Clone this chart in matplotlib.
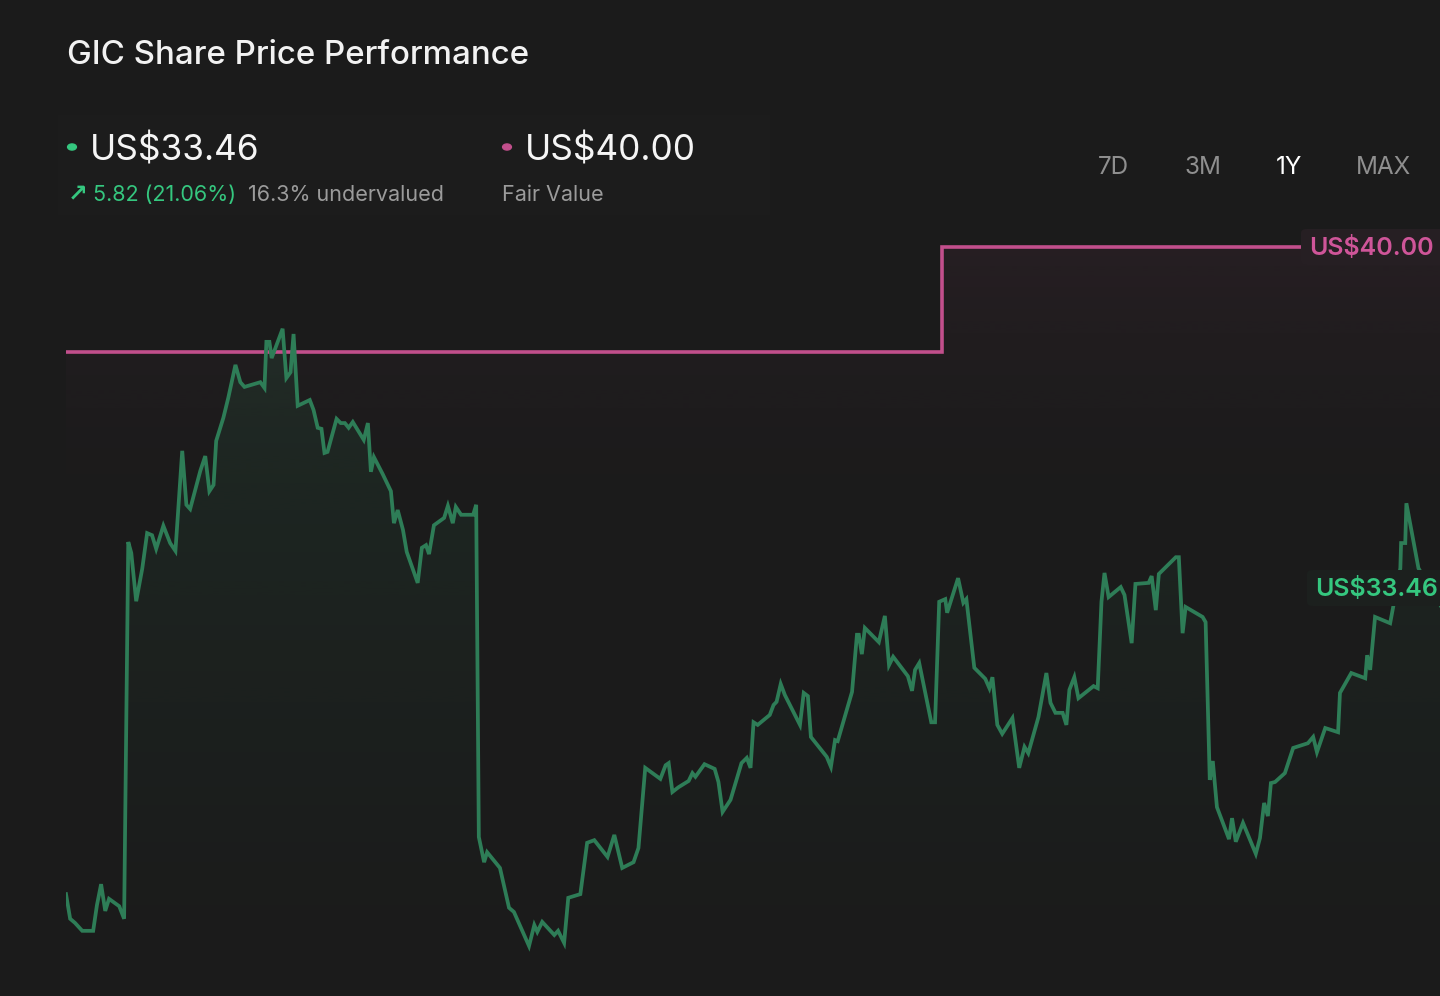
import numpy as np
import matplotlib
matplotlib.use("Agg")
import matplotlib.pyplot as plt
from matplotlib.patches import FancyBboxPatch, Rectangle

# ---------------- data ----------------
days = [0, 1.1, 2.4, 4.3, 7.2, 8.2, 9.3, 10.4, 11.4, 14.1, 15.4, 16.5, 17.3, 18.6, 20.2, 21.5, 22.8, 23.9,
        25.8, 27.6, 29.0, 30.8, 31.9, 32.9, 35.6, 36.9, 38.0, 39.1, 39.8, 41.7, 43.0, 44.9, 46.2, 47.3,
        51.5, 52.6, 53.1, 53.9, 54.5, 57.4, 58.4, 59.5, 60.3, 61.4, 64.6,
        65.6, 66.7, 67.7, 68.5, 69.3, 71.7, 72.8, 73.9, 74.9, 76.0, 78.9, 80.0, 80.8, 81.6, 83.9, 86.1,
        86.9, 87.9, 89.3, 90.3, 93.2, 94.3, 95.4, 96.2, 97.5, 100.2, 101.2, 102.5, 103.3, 104.7, 107.9,
        108.7, 109.4, 110.8, 111.6, 115.0, 117.4, 118.7, 122.7, 124.1, 124.9, 126.2,
        129.4, 130.4, 132.0, 133.1, 136.3, 138.1, 140.0, 143.5, 145.3, 147.4, 150.4, 151.7, 153.5, 157.5,
        158.9, 159.7, 160.7, 162.3, 165.0, 166.0, 166.8, 169.2, 171.9, 172.9, 174.0, 176.1, 179.0, 180.4,
        181.4, 182.2, 183.3, 186.5, 187.5, 188.3, 189.4, 190.5,
        194.5, 195.5, 196.6, 197.4, 200.8, 201.6, 202.7, 203.8, 204.5, 208.3, 209.6, 210.1, 210.9, 211.7,
        215.4, 217.0, 218.1, 219.2, 223.1, 224.2, 225.0, 226.1, 229.3, 230.3, 231.4, 233.0, 233.5, 236.4,
        237.8, 238.6, 240.7, 243.6, 244.7, 245.5, 246.8, 248.1, 250.8, 252.6, 254.0, 255.0,
        257.7, 259.8, 260.9, 262.2, 264.1, 265.1, 265.9, 267.2, 268.3, 272.3, 273.4, 274.4, 275.2, 276.3,
        279.5, 280.5, 282.4, 283.4, 286.9, 287.7, 288.8, 289.6, 294.1, 294.9, 295.9, 296.7, 301.2, 302.0,
        303.1, 303.9, 305.0, 308.2, 309.0, 310.0, 311.9, 315.3, 316.4, 317.5, 318.5, 319.3,
        320.4, 323.0, 325.2, 329.1, 330.5, 331.5, 333.7, 337.1, 337.6, 340.6, 344.3, 344.8, 345.6, 346.9,
        350.9, 351.7, 353.6, 353.8, 354.9, 355.2, 358.4, 365.0, 371.0]

prices = [27.65, 27.18, 27.10, 26.95, 26.95, 27.44, 27.84, 27.33, 27.56, 27.42, 27.18, 34.37, 34.16, 33.24,
          33.86, 34.54, 34.50, 34.24, 34.68, 34.35, 34.20, 36.11, 35.08, 35.00, 35.73, 36.01, 35.34, 35.46,
          36.30, 36.74, 37.12, 37.75, 37.42, 37.33, 37.42, 37.31, 38.19, 38.19, 37.88, 38.44, 37.50, 37.61,
          38.34, 36.97, 37.08,
          36.89, 36.55, 36.53, 36.07, 36.09, 36.72, 36.64, 36.64, 36.55, 36.66, 36.32, 36.64, 35.71, 35.99,
          35.67, 35.34, 34.73, 34.98, 34.60, 34.18, 33.59, 34.26, 34.31, 34.14, 34.69, 34.83, 35.06, 34.73,
          35.04, 34.89, 34.89, 35.08, 28.74, 28.26, 28.45, 28.15, 27.39, 27.31, 26.66, 27.06, 26.93, 27.12,
          26.87, 26.95, 26.72, 27.58, 27.65, 28.63, 28.68, 28.36, 28.78, 28.15, 28.26, 28.53, 30.06, 29.85,
          30.11, 30.15, 29.60, 29.69, 29.81, 29.96, 29.89, 30.13, 30.04, 29.79, 29.22, 29.45, 30.15, 30.25,
          30.06, 30.93, 30.88, 31.07, 31.26, 31.32, 31.66, 31.45,
          30.88, 31.49, 31.43, 30.65, 30.34, 30.27, 30.08, 30.59, 30.57, 31.51, 32.60, 32.60, 32.23, 32.73,
          32.46, 32.96, 32.02, 32.18, 31.81, 31.53, 31.93, 32.06, 30.93, 30.93, 33.23, 33.28, 33.02, 33.68,
          33.21, 33.28, 31.97, 31.76, 31.58, 31.79, 30.88, 30.71, 31.01, 30.06, 30.46, 30.34,
          31.03, 31.87, 31.30, 31.11, 31.11, 30.88, 31.55, 31.79, 31.39, 31.62, 31.58, 33.23, 33.78, 33.32,
          33.51, 33.36, 32.44, 33.57, 33.59, 33.72, 33.07, 33.76, 34.08, 34.08, 32.63, 33.13, 32.94, 32.84,
          29.83, 30.19, 29.31, 28.70, 29.10, 28.65, 29.01, 28.42, 28.72, 29.39, 29.14, 29.77,
          29.79, 29.96, 30.44, 30.53, 30.65, 30.36, 30.82, 30.74, 31.49, 31.87, 31.77, 32.21, 31.93, 32.94,
          32.82, 33.13, 33.87, 34.35, 34.35, 35.11, 33.87, 33.07, 33.46]

fv_days = [0, 232.2, 371.0]
fv_values = [38.00, 40.00, 40.00]

title = "GIC Share Price Performance"
last_price_label = "US$33.46"
fair_value_label = "US$40.00"
change_arrow = "\u2197"
change_label = "5.82 (21.06%)"
undervalued_label = "16.3% undervalued"
fv_caption = "Fair Value"
ranges = ["7D", "3M", "1Y", "MAX"]
active_range = "1Y"

# ---------------- style ----------------
BG = "#1b1b1b"
GREEN_LINE = "#2e7d57"
GREEN_TXT = "#35c77f"
PINK = "#c24f8c"
PINK_TXT = "#cf5599"
FONT = ["Inter", "DejaVu Sans"]

W, H = 1440, 996
fig = plt.figure(figsize=(W / 100, H / 100), dpi=100, facecolor=BG)

def fx(px):
    return px / W

def fy(py):
    return 1 - py / H

ax_left, ax_right, ax_top, ax_bot = 66, 1466, 220, 996
ax = fig.add_axes([fx(ax_left), fy(ax_bot), (ax_right - ax_left) / W, (ax_bot - ax_top) / H])
ax.set_facecolor(BG)
for s in ax.spines.values():
    s.set_visible(False)
ax.set_xticks([])
ax.set_yticks([])

px_per_dollar = 52.4
y_top = 40 + (247 - ax_top) / px_per_dollar
y_bot = 40 - (ax_bot - 247) / px_per_dollar
ax.set_xlim(0, 371.0)
ax.set_ylim(y_bot, y_top)

# very subtle header panel
fig.patches.append(Rectangle((fx(58), fy(215)), fx(770 - 58), (215 - 115) / H,
                             transform=fig.transFigure, facecolor="#1c1c1c", edgecolor="none", zorder=0))

# gradient fill under price
d = np.array(days)
p = np.array(prices)
poly = ax.fill_between(d, p, y_bot, color="none", linewidth=0)
path = poly.get_paths()[0]
n = 256
g = np.linspace(0, 1, n).reshape(-1, 1)
rgba = np.zeros((n, 1, 4))
rgba[..., 0] = 0x2e / 255
rgba[..., 1] = 0x7d / 255
rgba[..., 2] = 0x57 / 255
rgba[..., 3] = 0.16 * g ** 1.3
im = ax.imshow(rgba, extent=[0, 371, y_bot, max(prices)], origin="lower", aspect="auto", zorder=1,
               interpolation="bilinear")
im.set_clip_path(path, transform=ax.transData)

# pink gradient under fair value
fv_x = [0, 232.2, 232.2, 371]
fv_y = [38.0, 38.0, 40.0, 40.0]
poly2 = ax.fill_between(fv_x, fv_y, y_bot, color="none", linewidth=0)
path2 = poly2.get_paths()[0]
rgba2 = np.zeros((n, 1, 4))
rgba2[..., 0] = 0xc2 / 255
rgba2[..., 1] = 0x4f / 255
rgba2[..., 2] = 0x8c / 255
rgba2[..., 3] = 0.07 * g ** 2
im2 = ax.imshow(rgba2, extent=[0, 371, 33.5, 40.0], origin="lower", aspect="auto", zorder=0.9,
                interpolation="bilinear")
im2.set_clip_path(path2, transform=ax.transData)

# lines
ax.plot(fv_days, fv_values, drawstyle="steps-post", color=PINK, lw=2.6, zorder=3, solid_joinstyle="miter")
ax.plot(d, p, color=GREEN_LINE, lw=2.7, zorder=4, solid_joinstyle="miter")

# right-side value labels (boxes)
def value_box(text, y_px, x_px, txt_color, box_color):
    fig.patches.append(FancyBboxPatch((fx(x_px), fy(y_px + 18)), fx(1480 - x_px), 36 / H,
                                      boxstyle="round,pad=0,rounding_size=0.004",
                                      transform=fig.transFigure, facecolor=box_color,
                                      edgecolor="none", zorder=5))
    fig.text(fx(x_px + 8), fy(y_px + 1), text, color=txt_color, fontsize=18.0, fontweight="semibold",
             family=FONT, va="center", ha="left", zorder=6)

value_box(fair_value_label, 247, 1301, PINK_TXT, "#261f23")
value_box(last_price_label, 588, 1307, GREEN_TXT, "#1c201e")

# header texts
fig.text(fx(67), fy(56), title, color="#f2f2f2", fontsize=23.8, fontweight="medium", family=FONT,
         va="center", ha="left")

fig.patches.append(plt.Circle((fx(72), fy(147)), 4.4 / W, transform=fig.transFigure,
                              color=GREEN_TXT, zorder=3))
fig.text(fx(90), fy(150), last_price_label, color="#f5f5f5", fontsize=25.3, family=FONT,
         va="center", ha="left")
fig.text(fx(68), fy(194), change_arrow, color=GREEN_TXT, fontsize=17, fontweight="bold",
         family=["DejaVu Sans"], va="center", ha="left")
fig.text(fx(93), fy(195), change_label, color=GREEN_TXT, fontsize=15.5, family=FONT,
         va="center", ha="left")
fig.text(fx(248), fy(195), undervalued_label, color="#9b9b9b", fontsize=15.5, family=FONT,
         va="center", ha="left")

fig.patches.append(plt.Circle((fx(507), fy(147)), 4.4 / W, transform=fig.transFigure,
                              color=PINK, zorder=3))
fig.text(fx(525), fy(150), fair_value_label, color="#f5f5f5", fontsize=25.3, family=FONT,
         va="center", ha="left")
fig.text(fx(502), fy(195), fv_caption, color="#9b9b9b", fontsize=15.5, family=FONT,
         va="center", ha="left")

range_x = [1113, 1203, 1289, 1384]
for lab, xc in zip(ranges, range_x):
    fig.text(fx(xc), fy(167), lab, color="#ffffff" if lab == active_range else "#8f8f8f",
             fontsize=17.5, family=FONT, va="center", ha="center")

fig.savefig("out.png", dpi=100, facecolor=BG)
